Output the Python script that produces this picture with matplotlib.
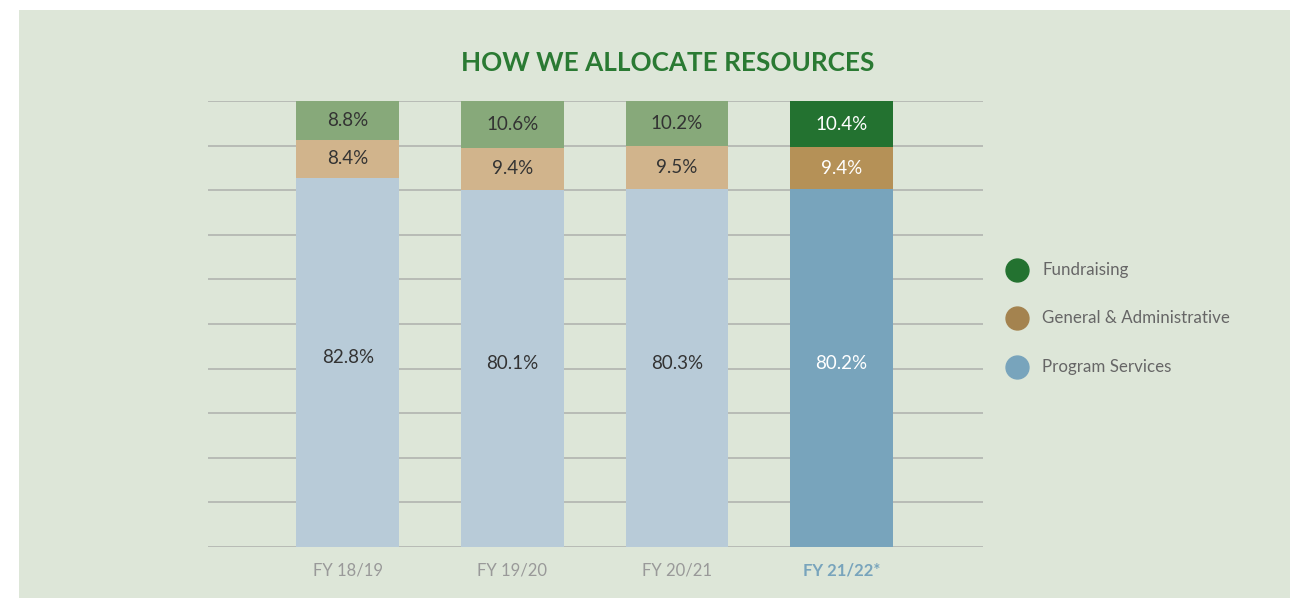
import matplotlib
matplotlib.use("Agg")
import matplotlib.pyplot as plt
from matplotlib.patches import Rectangle
from matplotlib.lines import Line2D

plt.rcParams['font.family'] = ['Lato', 'DejaVu Sans']

years = ["FY 18/19", "FY 19/20", "FY 20/21", "FY 21/22*"]
program = [82.8, 80.1, 80.3, 80.2]
general = [8.4, 9.4, 9.5, 9.4]
fundraising = [8.8, 10.6, 10.2, 10.4]
series_names = ["Fundraising", "General & Administrative", "Program Services"]

light = {"program": "#b8cbd8", "general": "#d1b48c", "fund": "#87a97a"}
dark = {"program": "#78a4bc", "general": "#b59157", "fund": "#237230"}
legend_colors = ["#237230", "#a4834f", "#78a4bc"]
bg = "#dde6d8"

fig = plt.figure(figsize=(12.99, 5.98), dpi=100)
fig.patch.set_facecolor("white")
fig.add_artist(Rectangle((19/1299, 0), (1290-19)/1299, (598-10)/598,
                         transform=fig.transFigure, facecolor=bg, edgecolor="none", zorder=0))

ax = fig.add_axes([208/1299, 51/598, 775/1299, 446/598])
ax.set_facecolor("none")
x = list(range(len(years)))
w = 0.625
n = len(years)
for i in x:
    hl = (i == n - 1)
    pal = dark if hl else light
    tc = "white" if hl else "#333333"
    b0 = 0
    for val, key in [(program[i], "program"), (general[i], "general"), (fundraising[i], "fund")]:
        ax.bar(i, val, width=w, bottom=b0, color=pal[key], zorder=3, linewidth=0)
        ypos = b0 + val / 2
        if key == "program":
            ypos = b0 + val / 2 + 1.0
        ax.text(i, ypos, f"{val}%", ha="center", va="center", fontsize=13.5,
                color=tc, zorder=4)
        b0 += val

ax.set_xlim(-0.85, 3.86)
ax.set_ylim(0, 100)
ax.set_yticks(range(0, 101, 10))
ax.yaxis.grid(True, color="#b5b8b3", linewidth=1.3, zorder=1)
ax.set_axisbelow(True)
ax.tick_params(axis="y", length=0, labelleft=False)
ax.tick_params(axis="x", length=0, pad=11.5)
ax.set_xticks(x)
ax.set_xticklabels(years, fontsize=12, color="#999999")
lbl = ax.get_xticklabels()[-1]
lbl.set_color("#78a4bc")
lbl.set_fontweight("bold")
for s in ax.spines.values():
    s.set_visible(False)

fig.text(668/1299, 1 - 63/598, "HOW WE ALLOCATE RESOURCES", ha="center", va="center",
         fontsize=18.8, fontweight="bold", color="#2a7a33")

leg_y = [270, 318, 367]
for name, col, yy in zip(series_names, legend_colors, leg_y):
    fig.add_artist(Line2D([1017/1299], [1 - yy/598], marker="o", markersize=16.5,
                          color=col, linestyle="none", transform=fig.transFigure))
    fig.text(1042/1299, 1 - yy/598, name, ha="left", va="center", fontsize=12.2,
             color="#666666")

fig.savefig("out.png", dpi=100, facecolor=fig.get_facecolor())
